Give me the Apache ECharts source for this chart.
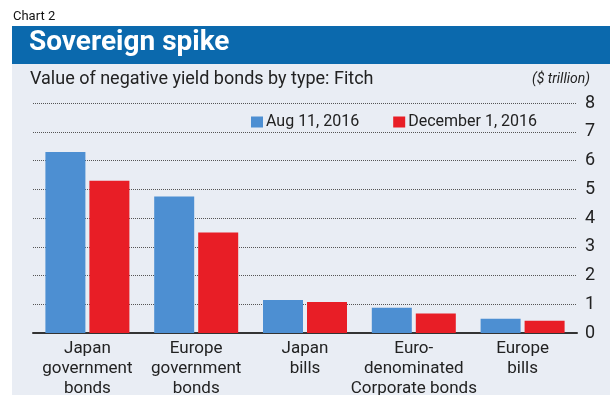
<!DOCTYPE html>
<html>
<head>
<meta charset="utf-8">
<script src="https://cdn.jsdelivr.net/npm/echarts@6/dist/echarts.min.js"></script>
<style>
  html, body { margin: 0; padding: 0; background: #ffffff; }
  #chart { width: 610px; height: 395px; }
</style>
</head>
<body>
<div id="chart"></div>
<script>
// Bond types on the category axis
const categories = [
  'Japan\ngovernment\nbonds',
  'Europe\ngovernment\nbonds',
  'Japan\nbills',
  'Euro-\ndenominated\nCorporate bonds',
  'Europe\nbills'
];
// Value of negative-yield bonds, $ trillion
const aug2016 = [6.3, 4.75, 1.15, 0.88, 0.5];
const dec2016 = [5.3, 3.5, 1.08, 0.68, 0.43];
const seriesNames = ['Aug 11, 2016', 'December 1, 2016'];
const yTicks = [0, 1, 2, 3, 4, 5, 6, 7, 8];

const FONT = 'Roboto, "Noto Sans", sans-serif';

const chart = echarts.init(document.getElementById('chart'), null, { renderer: 'canvas' });

chart.setOption({
  animation: false,
  backgroundColor: '#ffffff',
  textStyle: { fontFamily: FONT },
  graphic: [
    { type: 'rect', z: -10, silent: true,
      shape: { x: 12, y: 64, width: 598, height: 331 },
      style: { fill: '#e9edf4' } },
    { type: 'rect', z: -10, silent: true,
      shape: { x: 12, y: 26, width: 598, height: 38 },
      style: { fill: '#0b69ad' } },
    { type: 'text', left: 13, top: 10,
      style: { text: 'Chart 2', fill: '#111', font: '13px ' + FONT } },
    { type: 'text', left: 29, top: 29,
      style: { text: 'Sovereign spike', fill: '#ffffff', font: 'bold 28px Roboto, "Open Sans", sans-serif' } },
    { type: 'text', left: 30, top: 70,
      style: { text: 'Value of negative yield bonds by type: Fitch', fill: '#222', font: '18px ' + FONT } },
    { type: 'text', right: 20, top: 72,
      style: { text: '($ trillion)', fill: '#222', font: 'italic 14px ' + FONT } }
  ],
  legend: {
    top: 109,
    left: 246,
    itemWidth: 12,
    itemHeight: 11,
    itemGap: 34,
    icon: 'rect',
    textStyle: { fontSize: 16, color: '#222', fontFamily: FONT, padding: [0, 0, 0, -2] },
    data: seriesNames
  },
  grid: { left: 33, right: 33, top: 103, bottom: 62, containLabel: false, outerBoundsMode: 'none' },
  xAxis: {
    type: 'category',
    data: categories,
    axisTick: { show: false },
    axisLine: { show: true, lineStyle: { color: '#333', width: 2 } },
    axisLabel: { fontSize: 17, lineHeight: 20, color: '#222', margin: 6, interval: 0, fontFamily: FONT }
  },
  yAxis: {
    type: 'value',
    position: 'right',
    min: 0,
    max: 8,
    interval: 1,
    axisLine: { show: false },
    axisTick: { show: false },
    axisLabel: { fontSize: 18, color: '#222', margin: 8, fontFamily: FONT,
      formatter: v => yTicks.includes(v) ? String(v) : '' },
    splitLine: { lineStyle: { color: '#555', type: [1, 1], width: 1 } }
  },
  series: [
    { name: seriesNames[0], type: 'bar', data: aug2016, barWidth: 40, barGap: '10%',
      itemStyle: { color: '#4d8fd2' } },
    { name: seriesNames[1], type: 'bar', data: dec2016, barWidth: 40,
      itemStyle: { color: '#e81e26' } }
  ]
});
</script>
</body>
</html>
